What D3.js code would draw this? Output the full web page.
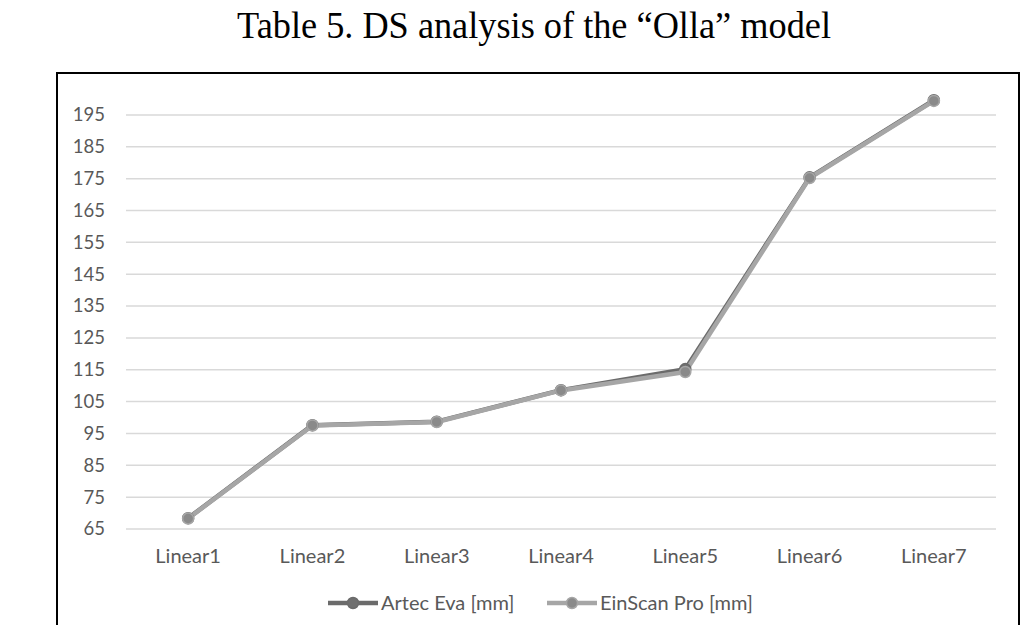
<!DOCTYPE html>
<html><head><meta charset="utf-8">
<script src="https://cdn.jsdelivr.net/npm/d3@7"></script>
<style>body{margin:0;background:#fff}svg{display:block}</style>
</head><body>
<svg id="c" width="1036" height="625"></svg>
<script>
const title = "Table 5. DS analysis of the \u201cOlla\u201d model";
const categories = ["Linear1","Linear2","Linear3","Linear4","Linear5","Linear6","Linear7"];
const seriesNames = ["Artec Eva [mm]","EinScan Pro [mm]"];
const artec = [68.4, 97.6, 98.7, 108.6, 115.2, 175.4, 199.6];
const einscan = [68.3, 97.5, 98.6, 108.5, 114.3, 175.2, 199.4];
const yTicks = [65,75,85,95,105,115,125,135,145,155,165,175,185,195];

const svg = d3.select("#c");
const font = "Lato, 'Open Sans', sans-serif";

// frame
svg.append("rect").attr("x",57).attr("y",73).attr("width",962).attr("height",600)
  .attr("fill","none").attr("stroke","#000").attr("stroke-width",2);

// title
svg.append("text").attr("x",534).attr("y",38).attr("text-anchor","middle")
  .attr("font-family","'Liberation Serif','Times New Roman',serif").attr("font-size",37)
  .attr("textLength",594).attr("lengthAdjust","spacingAndGlyphs")
  .attr("fill","#000").text(title);

const x = d3.scaleBand().domain(categories).range([126,996]);
const y = d3.scaleLinear().domain([65,200]).range([529,99]);

// gridlines
svg.append("g").selectAll("line").data(yTicks).join("line")
  .attr("x1",126).attr("x2",996).attr("y1",d=>y(d)).attr("y2",d=>y(d))
  .attr("stroke","#d9d9d9").attr("stroke-width",1.5);

// y axis labels
const yAxis = d3.axisLeft(y).tickValues(yTicks).tickSize(0).tickPadding(0);
const gy = svg.append("g").attr("transform","translate(105,0)").call(yAxis);
gy.select(".domain").remove();
gy.selectAll("text").attr("font-family",font).attr("font-size",18.5).attr("fill","#595959");

// x axis labels
const xAxis = d3.axisBottom(x).tickSize(0).tickPadding(0);
const gx = svg.append("g").attr("transform","translate(0,563)").call(xAxis);
gx.select(".domain").remove();
gx.selectAll("text").attr("font-family",font).attr("font-size",20).attr("fill","#595959")
  .attr("y",0).attr("dy",0);

const cx = d => x(d) + x.bandwidth()/2;
const line = d3.line().x((d,i)=>cx(categories[i])).y(d=>y(d));

const styles = [
  {data: artec, line:"#6b6b6b", marker:"#6f6f6f"},
  {data: einscan, line:"#a6a6a6", marker:"#8a8a8a"}
];
styles.forEach(s=>{
  svg.append("path").datum(s.data).attr("d",line).attr("fill","none")
    .attr("stroke",s.line).attr("stroke-width",4.5).attr("stroke-linejoin","round");
});
styles.forEach(s=>{
  svg.append("g").selectAll("circle").data(s.data).join("circle")
    .attr("cx",(d,i)=>cx(categories[i])).attr("cy",d=>y(d)).attr("r",5.5)
    .attr("fill",s.marker).attr("stroke",s.line).attr("stroke-width",1.5);
});

// legend
const legX = [328, 547];
seriesNames.forEach((n,i)=>{
  const g = svg.append("g").attr("transform",`translate(${legX[i]},603)`);
  g.append("line").attr("x1",0).attr("x2",50).attr("y1",0).attr("y2",0)
    .attr("stroke",styles[i].line).attr("stroke-width",4.5);
  g.append("circle").attr("cx",25).attr("cy",0).attr("r",5.5).attr("fill",styles[i].marker).attr("stroke",styles[i].line).attr("stroke-width",1.5);
  g.append("text").attr("x",53).attr("y",0).attr("dy","0.35em").attr("font-family",font)
    .attr("font-size",20).attr("fill","#595959").text(n);
});
</script>
</body></html>
